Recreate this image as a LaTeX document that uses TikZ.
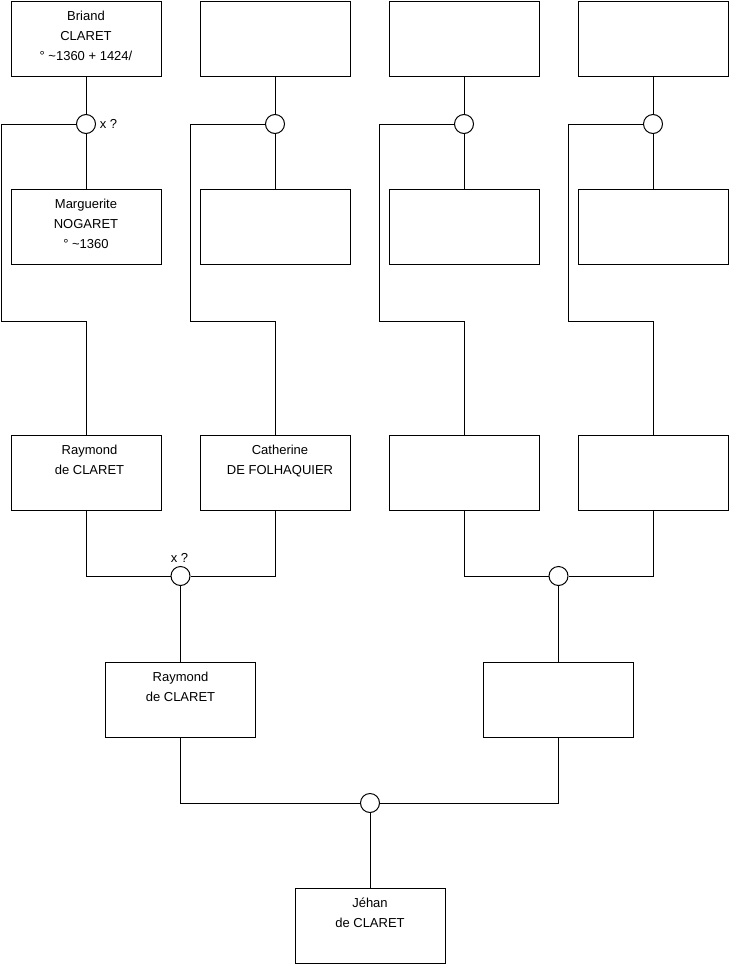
\documentclass[tikz,border=0pt]{standalone}
\usepackage{fontspec}
\setmainfont{Liberation Sans}
\begin{document}
\begin{tikzpicture}[x=1pt,y=-1pt,
  person/.style={draw=black, line width=1pt, minimum width=150pt, minimum height=75pt, inner sep=0pt, fill=white},
  union/.style={draw=black, line width=1pt, circle, minimum size=19pt, inner sep=0pt, fill=white},
  txt/.style={anchor=base, inner sep=0pt, align=center, font=\fontsize{13}{20}\selectfont},
  lbl/.style={inner sep=0pt, font=\fontsize{13}{16}\selectfont},
  link/.style={draw=black, line width=1pt}]
\useasboundingbox[fill=white] (0,0) rectangle (740,975);

% top row
\node[person] (a1) at (86,38.5) {};
\node[person] (a2) at (275,38.5) {};
\node[person] (a3) at (464,38.5) {};
\node[person] (a4) at (653,38.5) {};
% second row
\node[person] (b1) at (86,227) {};
\node[person] (b2) at (275,227) {};
\node[person] (b3) at (464,227) {};
\node[person] (b4) at (653,227) {};
% third row
\node[person] (r1) at (86,472.5) {};
\node[person] (r2) at (275,472.5) {};
\node[person] (r3) at (464,472.5) {};
\node[person] (r4) at (653,472.5) {};
% fourth row
\node[person] (s1) at (180.5,699.5) {};
\node[person] (s2) at (558.5,699.5) {};
% bottom
\node[person] (j) at (370,925.5) {};

% unions
\node[union] (c1) at (86,124) {};
\node[union] (c2) at (275,124) {};
\node[union] (c3) at (464,124) {};
\node[union] (c4) at (653,124) {};
\node[union] (m1) at (180.5,576) {};
\node[union] (m2) at (558.5,576) {};
\node[union] (m3) at (370,803) {};

% corner coordinates
\coordinate (k1) at (1,321);
\coordinate (k2) at (190,321);
\coordinate (k3) at (379,321);
\coordinate (k4) at (568,321);

% connectors
\foreach \i in {1,2,3,4}{
  \draw[link] (a\i.south) -- (c\i.north);
  \draw[link] (c\i.south) -- (b\i.north);
  \draw[link] (c\i.west) -| (k\i) -| (r\i.north);
}
\draw[link] (r1.south) |- (m1.west);
\draw[link] (r2.south) |- (m1.east);
\draw[link] (r3.south) |- (m2.west);
\draw[link] (r4.south) |- (m2.east);
\draw[link] (m1.south) -- (s1.north);
\draw[link] (m2.south) -- (s2.north);
\draw[link] (s1.south) |- (m3.west);
\draw[link] (s2.south) |- (m3.east);
\draw[link] (m3.south) -- (j.north);

% texts (base anchor = baseline of last line)
\node[txt] (ta1) at ([yshift=-59.5pt]a1.north) {Briand\\CLARET\\° \textasciitilde1360 + 1424/};
\node[txt] (tb1) at ([yshift=-59.5pt]b1.north) {Marguerite\\NOGARET\\° \textasciitilde1360};
\node[txt] (tr1) at ([xshift=3.5pt,yshift=-40pt]r1.north) {Raymond\\de CLARET};
\node[txt] (tr2) at ([xshift=5pt,yshift=-40pt]r2.north) {Catherine\\DE FOLHAQUIER};
\node[txt] (ts1) at ([yshift=-40pt]s1.north) {Raymond\\de CLARET};
\node[txt] (tj) at ([yshift=-40pt]j.north) {Jéhan\\de CLARET};

\node[lbl] (x1) at (108.5,124) {x ?};
\node[lbl] (x2) at (179.5,558) {x ?};
\end{tikzpicture}
\end{document}
